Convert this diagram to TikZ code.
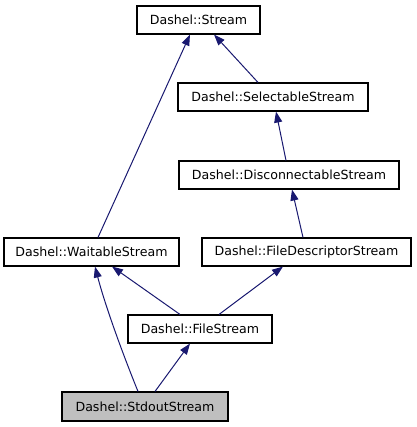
\documentclass[tikz,border=0pt]{standalone}
\usepackage{fontspec}
\setmainfont{DejaVu Sans}
\usetikzlibrary{arrows.meta,calc}
\definecolor{edgec}{HTML}{191970}
\definecolor{grayfill}{HTML}{BFBFBF}
\tikzset{
  cls/.style={draw=black, line width=1.1pt, fill=white, inner sep=0pt, font=\fontsize{12.6}{14}\selectfont},
  inh/.style={draw=edgec, line width=1pt, -{Triangle[length=11pt,width=8pt]}},
}
\begin{document}
\begin{tikzpicture}[x=1pt,y=-1pt]
\useasboundingbox (0,0) rectangle (416,427);
\node[cls, minimum width=123, minimum height=28] (stream) at (198.5,20) {Dashel::Stream};
\node[cls, minimum width=190, minimum height=28] (sel) at (273,97) {Dashel::SelectableStream};
\node[cls, minimum width=220, minimum height=28] (disc) at (289,175) {Dashel::DisconnectableStream};
\node[cls, minimum width=175, minimum height=28] (wait) at (91.5,252) {Dashel::WaitableStream};
\node[cls, minimum width=209, minimum height=28] (fds) at (306.5,252) {Dashel::FileDescriptorStream};
\node[cls, minimum width=144, minimum height=28] (file) at (200,329) {Dashel::FileStream};
\node[cls, fill=grayfill, minimum width=166, minimum height=29] (std) at (145,406.5) {Dashel::StdoutStream};

\draw[inh] ([xshift=6.5]wait.north) -- ([xshift=-8.5]stream.south);
\draw[inh] ([xshift=-15]sel.north) -- ([xshift=15.5]stream.south);
\draw[inh] ([xshift=-3]disc.north) -- ([xshift=3]sel.south);
\draw[inh] ([xshift=-3.5]fds.north) -- ([xshift=3]disc.south);
\draw[inh] ([xshift=-20]file.north) -- ([xshift=20.5]wait.south);
\draw[inh] ([xshift=19]file.north) -- ([xshift=-23.5]fds.south);
\draw[inh] ([xshift=-7]std.north) .. controls (122,352) and (105,305) .. ([xshift=3.5]wait.south);
\draw[inh] ([xshift=10]std.north) -- ([xshift=-10]file.south);
\end{tikzpicture}
\end{document}
